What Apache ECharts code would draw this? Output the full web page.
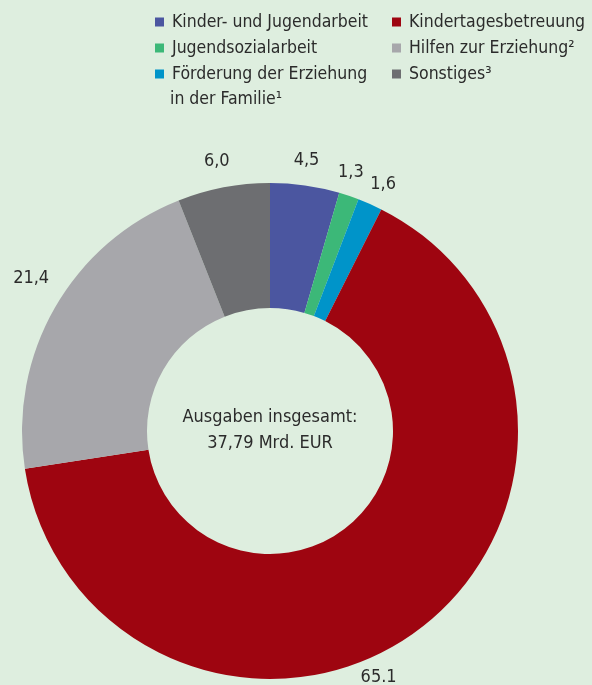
<!DOCTYPE html>
<html>
<head>
<meta charset="utf-8">
<script src="https://cdn.jsdelivr.net/npm/echarts@6/dist/echarts.min.js"></script>
<style>
html,body{margin:0;padding:0;background:#deeedf;}
#chart{width:592px;height:685px;}
</style>
</head>
<body>
<div id="chart"></div>
<script>
// Ausgaben nach Arbeitsfeldern (Anteile in %)
var names = ['Kinder- und Jugendarbeit', 'Jugendsozialarbeit', 'Förderung der Erziehung',
	'Kindertagesbetreuung', 'Hilfen zur Erziehung²', 'Sonstiges³'];
var values = [4.5, 1.3, 1.6, 65.1, 21.4, 6.0];
var labels = ['4,5', '1,3', '1,6', '65.1', '21,4', '6,0'];
var colors = ['#4b56a0', '#3cb878', '#0094c9', '#9e0510', '#a7a7ab', '#6d6e71'];

var font = '"Liberation Sans Narrow", "DejaVu Sans Condensed", sans-serif';

var chart = echarts.init(document.getElementById('chart'));

// Beschriftungen leicht verschoben wie im Original
var labelShift = [[-2, 0], [-6, 0], [3, 3], [-52, 26], [-2, -17], [-2, -2]];

var pieData = [];
var labelData = [];
for (var i = 0; i < names.length; i++) {
	pieData.push({ name: names[i], value: values[i], itemStyle: { color: colors[i] } });
	labelData.push({ name: names[i], value: values[i], label: { formatter: labels[i], offset: labelShift[i] } });
}

var legendText = { fontFamily: font, fontSize: 17.5, color: '#2b2b2b', lineHeight: 20, padding: [0, 0, 0, 3] };

chart.setOption({
	backgroundColor: '#deeedf',
	color: colors,
	legend: [{
		data: [names[0], names[1], names[2]],
		orient: 'vertical',
		left: 150, top: 7,
		icon: 'rect', itemWidth: 9, itemHeight: 9, itemGap: 6,
		textStyle: legendText,
		selectedMode: false
	}, {
		data: [names[3], names[4], names[5]],
		orient: 'vertical',
		left: 387, top: 7,
		icon: 'rect', itemWidth: 9, itemHeight: 9, itemGap: 6,
		textStyle: legendText,
		selectedMode: false
	}],
	graphic: [{
		// zweite Zeile des dritten Legendeneintrags
		type: 'text',
		x: 170, y: 90,
		style: {
			text: 'in der Familie¹',
			fontFamily: font, fontSize: 17.5, fill: '#2b2b2b'
		}
	}, {
		type: 'text',
		x: 270, y: 404,
		style: {
			text: 'Ausgaben insgesamt:\n37,79 Mrd. EUR',
			fontFamily: font, fontSize: 18, lineHeight: 26,
			fill: '#2b2b2b', align: 'center'
		}
	}],
	series: [{
		type: 'pie',
		center: [270, 431],
		radius: [123, 248],
		startAngle: 90,
		silent: true,
		label: { show: false },
		labelLine: { show: false },
		data: pieData
	}, {
		// unsichtbarer Ring nur fuer die Beschriftungen
		type: 'pie',
		center: [270, 431],
		radius: [263, 277],
		startAngle: 90,
		silent: true,
		itemStyle: { color: 'rgba(0,0,0,0)' },
		label: {
			show: true, position: 'inside',
			fontFamily: font, fontSize: 18, color: '#2b2b2b'
		},
		labelLine: { show: false },
		labelLayout: { hideOverlap: false },
		data: labelData
	}]
});
</script>
</body>
</html>
